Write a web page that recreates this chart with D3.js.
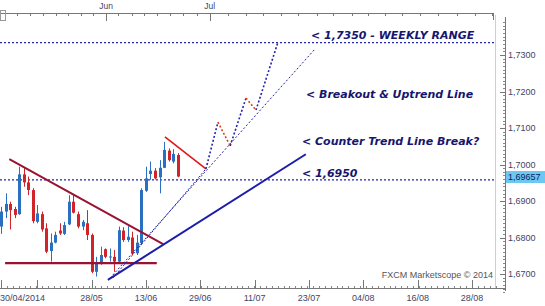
<!DOCTYPE html>
<html><head><meta charset="utf-8">
<script src="https://cdn.jsdelivr.net/npm/d3@7"></script>
<style>html,body{margin:0;padding:0;background:#fff;}svg{display:block;}</style>
</head><body><svg id="c" width="545" height="306"></svg>
<script>
// ---- data ----
const opens  = [1.6830,1.6871,1.6892,1.6878,1.6864,1.6973,1.6951,1.6930,1.6843,1.6864,1.6825,1.6763,1.6786,1.6819,1.6810,1.6836,1.6898,1.6864,1.6830,1.6839,1.6807,1.6706,1.6729,1.6768,1.6746,1.6747,1.6734,1.6819,1.6793,1.6800,1.6757,1.6785,1.6928,1.6974,1.6983,1.6965,1.6991,1.7038,1.7008,1.7026];
const highs  = [1.6884,1.6921,1.6898,1.6884,1.6994,1.6990,1.6967,1.6935,1.6889,1.6871,1.6839,1.6811,1.6816,1.6839,1.6843,1.6916,1.6919,1.6871,1.6848,1.6875,1.6811,1.6747,1.6775,1.6770,1.6770,1.6766,1.6830,1.6828,1.6831,1.6816,1.6807,1.6935,1.6994,1.7008,1.6990,1.7012,1.7062,1.7044,1.7042,1.7031];
const lows   = [1.6810,1.6853,1.6822,1.6853,1.6862,1.6939,1.6916,1.6839,1.6839,1.6816,1.6757,1.6734,1.6784,1.6807,1.6807,1.6834,1.6866,1.6825,1.6820,1.6793,1.6702,1.6693,1.6725,1.6743,1.6734,1.6706,1.6729,1.6788,1.6788,1.6752,1.6752,1.6779,1.6925,1.6958,1.6959,1.6921,1.6990,1.7008,1.7003,1.6965];
const closes = [1.6871,1.6892,1.6875,1.6862,1.6973,1.6951,1.6930,1.6845,1.6866,1.6822,1.6761,1.6786,1.6807,1.6811,1.6834,1.6898,1.6868,1.6830,1.6843,1.6807,1.6706,1.6729,1.6752,1.6747,1.6748,1.6734,1.6820,1.6793,1.6802,1.6757,1.6786,1.6930,1.6962,1.6983,1.6962,1.6991,1.7040,1.7012,1.7029,1.6967];

const bottomTickIdx    = [20,32,44,56,68,80,92,104];
const bottomTickLabels = ["28/05","13/06","29/06","11/07","23/07","04/08","16/08","28/08"];
const firstLabel = "30/04/2014";
const bottomMajorIdx = [0,8,20,32,44,56,68,80,92,104];
const topTickIdx = [3.6,6.4,9.3,12.1,14.9,17.7,20.4,25.9,28.9,31.6,34.4,37.3,40.2,43.3,50.1,54.1,57.8,61.8,65.6,69.8,73.3,77.5,81,84.8,88.5,92.5,96.5,100.6,104.6,108.4];
const monthIdx = [23.2,46.1];
const monthLabels = ["Jun","Jul"];
const priceTicks = [1.67,1.68,1.69,1.70,1.71,1.72,1.73];
const lastPrice = 1.69657;

// annotation lines (bar index, price)
const weeklyRange = 1.7334;
const level6950 = 1.6958;
const descTrend = [[1.83,1.7015],[35.8,1.6782]];
const supportLine = [[0.9,1.6730],[34.4,1.6730]];
const upTrend = [[23.6,1.6684],[67.3,1.7028]];
const redShort = [[36.2,1.7076],[45.25,1.6988]];
const dotLine1 = [[24.1,1.6689],[69.3,1.7316]];
const dotLine2 = [[24.7,1.6689],[45.25,1.6988]];
const pathUp = [[[45.25,1.6988],[47.9,1.7116]],[[50.6,1.7051],[54.1,1.7182]],[[56.3,1.7149],[61.1,1.7333]]];
const pathDown = [[[47.9,1.7116],[50.6,1.7051]],[[54.1,1.7182],[56.3,1.7149]]];
const annotations = [
  {t:"< 1,7350 - WEEKLY RANGE", x:311, y:39},
  {t:"< Breakout & Uptrend Line", x:306, y:97.5},
  {t:"< Counter Trend Line Break?", x:302, y:145},
  {t:"< 1,6950", x:302, y:176.7}
];

// ---- drawing ----
const svg = d3.select("#c");
const x = d3.scaleLinear().domain([0,104]).range([1,472]);
const y = d3.scaleLinear().domain([1.67,1.73]).range([274,55]);
const plotRight = 495, axisX = 505, bottomY = 288, topY = 13;

const navy = "#16166e", blueLine = "#1c1caa", maroon = "#9a1232";
const upCol = "#2a6fc0", dnCol = "#d2232a";

// frame
svg.append("line").attr("x1",plotRight+0.5).attr("x2",plotRight+0.5).attr("y1",topY+2).attr("y2",bottomY).attr("stroke","#cfcfcf");

// horizontal dotted levels
[weeklyRange, level6950].forEach(v=>{
  svg.append("line").attr("x1",0).attr("x2",plotRight).attr("y1",y(v)).attr("y2",y(v))
    .attr("stroke","#2626a8").attr("stroke-width",1.3).attr("stroke-dasharray","2,2");
});

// candles
const candles = d3.range(opens.length).map(i=>({i,o:opens[i],h:highs[i],l:lows[i],c:closes[i]}));
const g = svg.append("g");
g.selectAll("line.w").data(candles).join("line")
  .attr("x1",d=>Math.round(x(d.i))+0.5).attr("x2",d=>Math.round(x(d.i))+0.5)
  .attr("y1",d=>y(d.h)).attr("y2",d=>y(d.l))
  .attr("stroke",d=>d.c>=d.o?upCol:dnCol).attr("stroke-width",1);
g.selectAll("rect").data(candles).join("rect")
  .attr("x",d=>Math.round(x(d.i))-1).attr("width",3)
  .attr("y",d=>y(Math.max(d.o,d.c))).attr("height",d=>Math.max(1,Math.abs(y(d.o)-y(d.c))))
  .attr("fill",d=>d.c>=d.o?upCol:dnCol);

const line = d3.line().x(d=>x(d[0])).y(d=>y(d[1]));
function seg(pts,col,w,dash){
  const p = svg.append("path").attr("d",line(pts)).attr("fill","none").attr("stroke",col).attr("stroke-width",w);
  if(dash) p.attr("stroke-dasharray",dash);
  return p;
}
seg(descTrend,maroon,2);
seg(supportLine,maroon,2.2);
seg(upTrend,blueLine,2);
seg(redShort,"#e01818",1.6);
seg(dotLine1,"#2424a0",1,"2,2");
seg(dotLine2,"#2424a0",1,"2,2");
pathUp.forEach(p=>seg(p,"#2424b0",1.6,"2,2"));
pathDown.forEach(p=>seg(p,"#e0401a",1.6,"2,2"));

// annotations
svg.selectAll("text.ann").data(annotations).join("text").attr("class","ann")
  .attr("x",d=>d.x).attr("y",d=>d.y).text(d=>d.t)
  .attr("font-family","DejaVu Sans").attr("font-weight","bold").attr("font-style","italic")
  .attr("font-size",11).attr("fill",navy);

// top axis
svg.append("line").attr("x1",0).attr("x2",plotRight-1).attr("y1",topY+0.5).attr("y2",topY+0.5).attr("stroke","#777");
svg.selectAll("line.tt").data(topTickIdx).join("line").attr("class","tt")
  .attr("x1",d=>Math.round(x(d))+0.5).attr("x2",d=>Math.round(x(d))+0.5).attr("y1",topY).attr("y2",topY+3).attr("stroke","#777");
svg.selectAll("line.tm").data(monthIdx).join("line").attr("class","tm")
  .attr("x1",d=>Math.round(x(d))+0.5).attr("x2",d=>Math.round(x(d))+0.5).attr("y1",topY).attr("y2",topY+8).attr("stroke","#777");
svg.selectAll("text.tm").data(monthIdx).join("text").attr("class","tm")
  .attr("x",d=>x(d)).attr("y",9).attr("text-anchor","middle").text((d,i)=>monthLabels[i])
  .attr("font-family","Liberation Sans").attr("font-size",8.5).attr("fill","#444466");
svg.append("rect").attr("x",0.5).attr("y",topY-2.5).attr("width",5).attr("height",10).attr("fill","none").attr("stroke","#999");
svg.append("line").attr("x1",plotRight-1.5).attr("x2",plotRight-1.5).attr("y1",topY).attr("y2",topY+7).attr("stroke","#777");

// bottom axis
svg.append("line").attr("x1",0).attr("x2",axisX).attr("y1",bottomY+0.5).attr("y2",bottomY+0.5).attr("stroke","#777");
const minorB = d3.range(0,110,1.3);
svg.selectAll("line.bm").data(minorB).join("line").attr("class","bm")
  .attr("x1",d=>Math.round(x(d))+0.5).attr("x2",d=>Math.round(x(d))+0.5)
  .attr("y1",bottomY-2).attr("y2",bottomY).attr("stroke","#888");
svg.selectAll("line.bM").data(bottomMajorIdx).join("line").attr("class","bM")
  .attr("x1",d=>Math.round(x(d))+0.5).attr("x2",d=>Math.round(x(d))+0.5)
  .attr("y1",bottomY-8).attr("y2",bottomY).attr("stroke","#777");
svg.selectAll("text.bl").data(bottomTickIdx).join("text").attr("class","bl")
  .attr("x",d=>x(d)).attr("y",300.5).attr("text-anchor","middle").text((d,i)=>bottomTickLabels[i])
  .attr("font-family","Liberation Sans").attr("font-size",9).attr("fill","#444466");
svg.append("text").attr("x",0).attr("y",300.5).text(firstLabel)
  .attr("font-family","Liberation Sans").attr("font-size",9).attr("fill","#444466");

// right axis
svg.append("line").attr("x1",axisX+0.5).attr("x2",axisX+0.5).attr("y1",topY+4).attr("y2",bottomY+3).attr("stroke","#777");
const minorY = d3.range(1.6650,1.7390,0.001);
svg.selectAll("line.ym").data(minorY).join("line").attr("class","ym")
  .attr("x1",axisX-2).attr("x2",axisX).attr("y1",d=>Math.round(y(d))+0.5).attr("y2",d=>Math.round(y(d))+0.5).attr("stroke","#888");
svg.selectAll("line.yM").data(priceTicks).join("line").attr("class","yM")
  .attr("x1",axisX-5).attr("x2",axisX).attr("y1",d=>Math.round(y(d))+0.5).attr("y2",d=>Math.round(y(d))+0.5).attr("stroke","#777");
svg.selectAll("text.yl").data(priceTicks).join("text").attr("class","yl")
  .attr("x",508).attr("y",d=>y(d)+3).text(d=>d3.format(".4f")(d).replace(".",","))
  .attr("font-family","Liberation Sans").attr("font-size",9).attr("fill","#444466");
svg.append("rect").attr("x",506).attr("y",y(lastPrice)-6).attr("width",39).attr("height",12).attr("fill","#6cc8f0");
svg.append("text").attr("x",508).attr("y",y(lastPrice)+3).text(d3.format(".5f")(lastPrice).replace(".",","))
  .attr("font-family","Liberation Sans").attr("font-size",9).attr("fill","#102060");

svg.append("text").attr("x",493).attr("y",278).attr("text-anchor","end").text("FXCM Marketscope © 2014")
  .attr("font-family","Liberation Sans").attr("font-size",9).attr("fill","#555");
</script></body></html>
